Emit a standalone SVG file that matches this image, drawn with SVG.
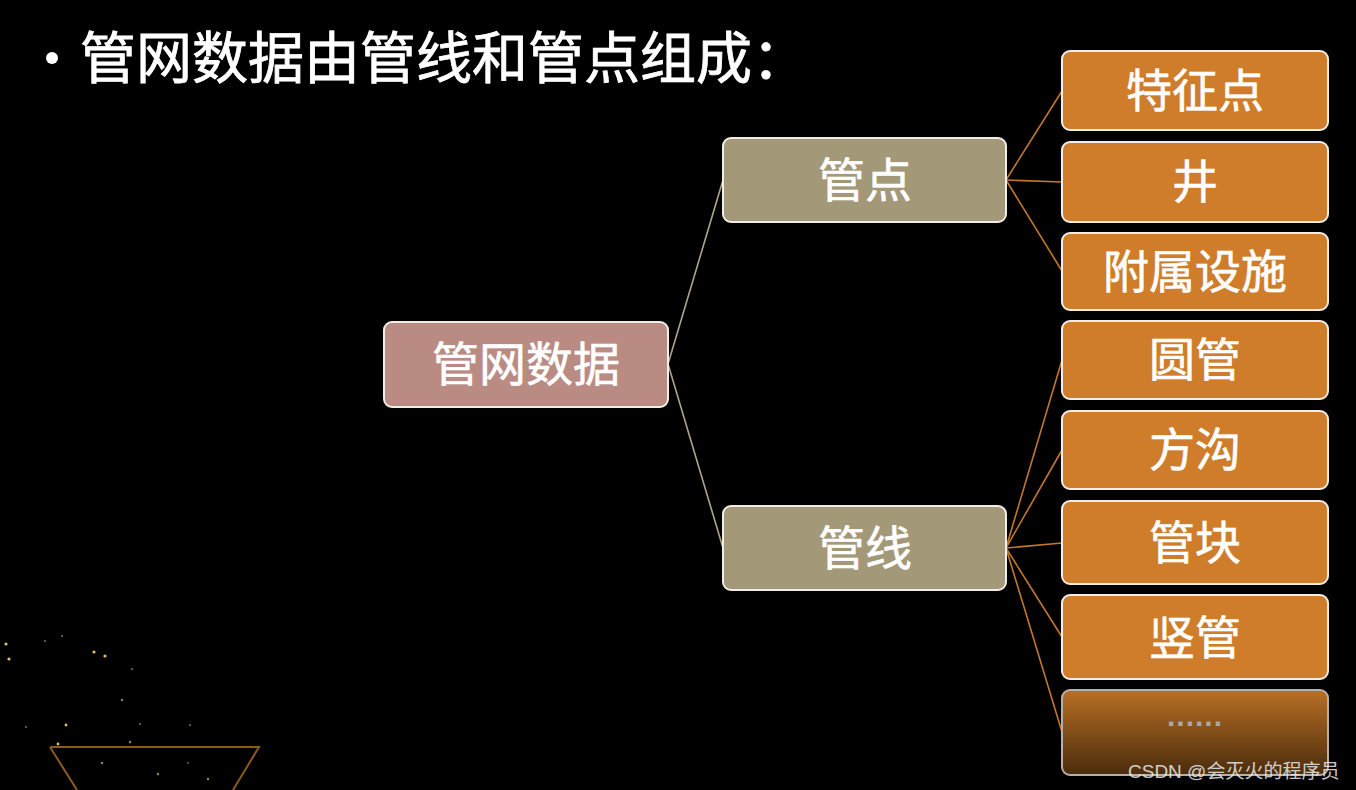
<svg xmlns="http://www.w3.org/2000/svg" width="1356" height="790" viewBox="0 0 1356 790">
<defs>
<style>
.t{font-family:"Noto Sans CJK SC","Liberation Sans",sans-serif;fill:#ffffff;text-anchor:middle;stroke:#ffffff;stroke-width:0.6}
.box{stroke:#f2ede6;stroke-width:2}
.root{fill:#b98b82}
.mid{fill:#a39878}
.leaf{fill:#cf7d2a}
.c1{stroke:#b0a48a;stroke-width:1.6;fill:none}
.c2{stroke:#c2782c;stroke-width:1.6;fill:none}
.dot{fill:#d8c070}
</style>
<linearGradient id="g" x1="0" y1="0" x2="0" y2="1">
<stop offset="0" stop-color="#b96f24"/>
<stop offset="1" stop-color="#4a2c0c"/>
</linearGradient>
</defs>
<rect x="0" y="0" width="1356" height="790" fill="#000"/>
<g id="title">
<circle cx="52" cy="58" r="6" fill="#fff"/>
<text x="80" y="78" font-family="Noto Sans CJK SC,Liberation Sans,sans-serif" font-size="56" fill="#fff" stroke="#fff" stroke-width="0.8">管网数据由管线和管点组成：</text>
</g>
<g id="connectors">
<line class="c1" x1="668" y1="364" x2="723" y2="180"/>
<line class="c1" x1="668" y1="364" x2="723" y2="548"/>
<line class="c2" x1="1006" y1="180" x2="1062" y2="91"/>
<line class="c2" x1="1006" y1="180" x2="1062" y2="182"/>
<line class="c2" x1="1006" y1="180" x2="1062" y2="271"/>
<line class="c2" x1="1006" y1="548" x2="1062" y2="360"/>
<line class="c2" x1="1006" y1="548" x2="1062" y2="450"/>
<line class="c2" x1="1006" y1="548" x2="1062" y2="543"/>
<line class="c2" x1="1006" y1="548" x2="1062" y2="637"/>
<line class="c2" x1="1006" y1="548" x2="1062" y2="732"/>
</g>
<g id="n-root">
<rect class="box root" x="384" y="322" width="284" height="85" rx="8"/>
<text class="t" x="526" y="381" font-size="47">管网数据</text>
</g>
<g id="n-guandian">
<rect class="box mid" x="723" y="138" width="283" height="84" rx="8"/>
<text class="t" x="865" y="197" font-size="47">管点</text>
</g>
<g id="n-guanxian">
<rect class="box mid" x="723" y="506" width="283" height="84" rx="8"/>
<text class="t" x="865" y="565" font-size="47">管线</text>
</g>
<g id="n-tezhengdian">
<rect class="box leaf" x="1062" y="51" width="266" height="79" rx="8"/>
<text class="t" x="1195" y="107" font-size="46">特征点</text>
</g>
<g id="n-jing">
<rect class="box leaf" x="1062" y="142" width="266" height="80" rx="8"/>
<text class="t" x="1195" y="198" font-size="46">井</text>
</g>
<g id="n-fushu">
<rect class="box leaf" x="1062" y="233" width="266" height="77" rx="8"/>
<text class="t" x="1195" y="288" font-size="46">附属设施</text>
</g>
<g id="n-yuanguan">
<rect class="box leaf" x="1062" y="321" width="266" height="78" rx="8"/>
<text class="t" x="1195" y="376" font-size="46">圆管</text>
</g>
<g id="n-fanggou">
<rect class="box leaf" x="1062" y="411" width="266" height="78" rx="8"/>
<text class="t" x="1195" y="466" font-size="46">方沟</text>
</g>
<g id="n-guankuai">
<rect class="box leaf" x="1062" y="501" width="266" height="83" rx="8"/>
<text class="t" x="1195" y="559" font-size="46">管块</text>
</g>
<g id="n-shuguan">
<rect class="box leaf" x="1062" y="595" width="266" height="84" rx="8"/>
<text class="t" x="1195" y="654" font-size="46">竖管</text>
</g>
<g id="n-more">
<rect x="1062" y="690" width="266" height="85" rx="8" fill="url(#g)" stroke="#b8b0a8" stroke-width="2"/>
<text x="1195" y="726" font-family="Liberation Sans,sans-serif" font-size="30" font-weight="bold" fill="#a8a8a8" text-anchor="middle" letter-spacing="1">......</text>
</g>
<g id="decor">
<path d="M50 747 H259 L233 790 M50 747 L77 790" fill="none" stroke="#8a5a1c" stroke-width="2"/>
<circle class="dot" cx="6" cy="644" r="1.6"/>
<circle class="dot" cx="9" cy="659" r="1.6"/>
<circle class="dot" cx="94" cy="652" r="1.6"/>
<circle class="dot" cx="105" cy="656" r="1.6"/>
<circle class="dot" cx="45" cy="641" r="1" opacity="0.6"/>
<circle class="dot" cx="62" cy="636" r="1" opacity="0.6"/>
<circle class="dot" cx="132" cy="669" r="1" opacity="0.6"/>
<circle class="dot" cx="122" cy="700" r="1.2" opacity="0.7"/>
<circle class="dot" cx="66" cy="725" r="1.4"/>
<circle class="dot" cx="26" cy="727" r="1" opacity="0.6"/>
<circle class="dot" cx="58" cy="744" r="1.4"/>
<circle class="dot" cx="130" cy="742" r="1.2" opacity="0.7"/>
<circle class="dot" cx="102" cy="763" r="1.2" opacity="0.7"/>
<circle class="dot" cx="158" cy="774" r="1.2" opacity="0.7"/>
<circle class="dot" cx="140" cy="724" r="1" opacity="0.6"/>
<circle class="dot" cx="190" cy="725" r="1" opacity="0.6"/>
<circle class="dot" cx="208" cy="779" r="1.2" opacity="0.7"/>
<circle class="dot" cx="188" cy="763" r="1" opacity="0.5"/>
</g>
<text x="1128" y="778" font-family="Liberation Sans,Noto Sans CJK SC,sans-serif" font-size="19" fill="#e8e8e8" opacity="0.85">CSDN @会灭火的程序员</text>
</svg>
